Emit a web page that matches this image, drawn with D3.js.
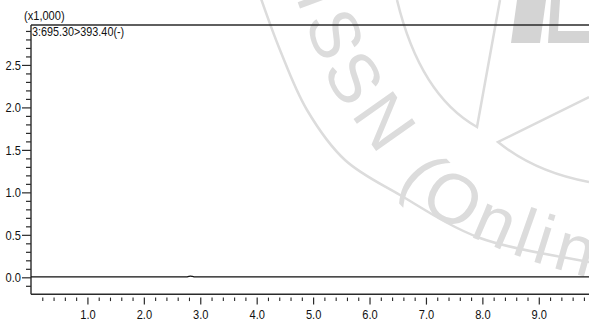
<!DOCTYPE html>
<html>
<head>
<meta charset="utf-8">
<script src="https://cdn.jsdelivr.net/npm/d3@7"></script>
<style>
  html, body { margin: 0; padding: 0; background: #fff; }
  svg { display: block; }
  .lbl { font-family: "Liberation Sans", Arial, sans-serif; font-size: 13.5px; fill: #111; }
</style>
</head>
<body>
<svg id="chart" width="589" height="322"></svg>
<script>
// MRM trace: retention time (min) vs intensity (x1,000 counts)
const retentionTime = [0.00, 2.70, 2.76, 2.80, 2.83, 2.86, 2.90, 2.96, 9.89];
const intensityK    = [0.004, 0.004, 0.006, 0.012, 0.014, 0.011, 0.006, 0.004, 0.004];

const xMajorTicks = [1.0, 2.0, 3.0, 4.0, 5.0, 6.0, 7.0, 8.0, 9.0];
const yMajorTicks = [0.0, 0.5, 1.0, 1.5, 2.0, 2.5];
const xMinorStep = 0.2;
const yMinorStep = 0.1;

const scaleNote = "(x1,000)";
const traceLabel = "3:695.30>393.40(-)";

// faint journal seal in the background
const sealText = "ISSN (Online)";

const W = 589, H = 322;
const svg = d3.select("#chart");

const x = d3.scaleLinear().domain([0, 9.89]).range([31, 589]);
const y = d3.scaleLinear().domain([-0.2, 2.97]).range([294.3, 25]);

// narrow-face look: squeeze each label horizontally
function condense(sel, f) {
  sel.each(function () {
    const L = this.getComputedTextLength();
    this.setAttribute("textLength", (L * f).toFixed(2));
    this.setAttribute("lengthAdjust", "spacingAndGlyphs");
  });
}

// ---- background seal ----
const seal = svg.append("g").attr("class", "seal");
const sealGrey = "#dcdcdc";
const arcLine = d3.line().curve(d3.curveCatmullRom.alpha(0.5));
seal.append("path")
  .attr("d", arcLine([[258, -10], [280, 50], [307, 110], [345, 160], [400, 195], [480, 238], [589, 262], [620, 268]]))
  .attr("fill", "none").attr("stroke", sealGrey).attr("stroke-width", 2.5);
seal.append("path")
  .attr("d", "M397,0 Q420,95 477,127 L500,0")
  .attr("fill", "none").attr("stroke", sealGrey).attr("stroke-width", 2.5);
seal.append("path")
  .attr("d", "M589,97 L498,142 Q535,172 589,182")
  .attr("fill", "none").attr("stroke", sealGrey).attr("stroke-width", 2.5);
seal.append("path")
  .attr("d", "M517,0 L546,0 L540,43 L511,43 Z M551,0 L560,0 L558,31 L589,31 L589,43 L548,43 Z")
  .attr("fill", "#d4d4d4");
seal.append("defs").append("path")
  .attr("id", "sealPath")
  .attr("d", arcLine([[286, -30], [308, 30], [329, 82], [362, 131], [409, 193], [446, 223], [502, 250], [548, 266], [600, 280], [660, 290]]));
seal.append("text")
  .attr("font-family", "Liberation Sans, Arial, sans-serif")
  .attr("font-size", 70)
  .attr("fill", sealGrey)
  .attr("letter-spacing", 6)
  .append("textPath")
  .attr("href", "#sealPath")
  .attr("startOffset", 28)
  .text(sealText);

// ---- frame lines ----
const ink = "#2a2a2a";
svg.append("line").attr("x1", 31).attr("x2", W).attr("y1", y.range()[1]).attr("y2", y.range()[1])
  .attr("stroke", ink).attr("stroke-width", 1.4);
svg.append("line").attr("x1", 31).attr("x2", W).attr("y1", y.range()[0]).attr("y2", y.range()[0])
  .attr("stroke", ink).attr("stroke-width", 1.4);
svg.append("line").attr("x1", 31).attr("x2", 31).attr("y1", y.range()[1]).attr("y2", y.range()[0])
  .attr("stroke", ink).attr("stroke-width", 1.4);

// ---- y axis ----
const yMinor = d3.range(-0.1, 2.95, yMinorStep).filter(v => yMajorTicks.every(t => Math.abs(t - v) > 1e-6));
svg.append("g").attr("transform", "translate(31,0)")
  .call(d3.axisLeft(y).tickValues(yMinor).tickSize(5).tickFormat(""))
  .call(g => g.select(".domain").remove())
  .call(g => g.selectAll("line").attr("stroke", ink).attr("stroke-width", 1.2));
svg.append("g").attr("transform", "translate(31,0)")
  .call(d3.axisLeft(y).tickValues(yMajorTicks).tickSize(9).tickPadding(1).tickFormat(d3.format(".1f")))
  .call(g => g.select(".domain").remove())
  .call(g => g.selectAll("line").attr("stroke", ink).attr("stroke-width", 1.2))
  .call(g => g.selectAll("text").attr("class", "lbl").attr("font-family", null).attr("font-size", null).call(condense, 0.82));

// ---- x axis (ticks sit just below the axis line) ----
const xTickTop = y.range()[0] + 3.3;
const xMinor = d3.range(xMinorStep, 9.9, xMinorStep).filter(v => xMajorTicks.every(t => Math.abs(t - v) > 1e-6));
svg.append("g").attr("transform", `translate(0,${xTickTop})`)
  .call(d3.axisBottom(x).tickValues(xMinor).tickSize(3.5).tickFormat(""))
  .call(g => g.select(".domain").remove())
  .call(g => g.selectAll("line").attr("stroke", ink).attr("stroke-width", 1.1));
svg.append("g").attr("transform", `translate(0,${xTickTop})`)
  .call(d3.axisBottom(x).tickValues(xMajorTicks).tickSize(7).tickPadding(5).tickFormat(d3.format(".1f")))
  .call(g => g.select(".domain").remove())
  .call(g => g.selectAll("line").attr("stroke", ink).attr("stroke-width", 1.2))
  .call(g => g.selectAll("text").attr("class", "lbl").attr("font-family", null).attr("font-size", null).call(condense, 0.82));

// ---- trace ----
const trace = d3.line()
  .x((d, i) => x(retentionTime[i]))
  .y(d => y(d))
  .curve(d3.curveMonotoneX);
svg.append("path")
  .attr("d", trace(intensityK))
  .attr("fill", "none").attr("stroke", "#111").attr("stroke-width", 1.3);

// ---- labels ----
svg.append("text").attr("class", "lbl").attr("x", 24).attr("y", 20).text(scaleNote).call(condense, 0.82);
svg.append("text").attr("class", "lbl").attr("x", 32).attr("y", 36).text(traceLabel).call(condense, 0.8);
</script>
</body>
</html>
